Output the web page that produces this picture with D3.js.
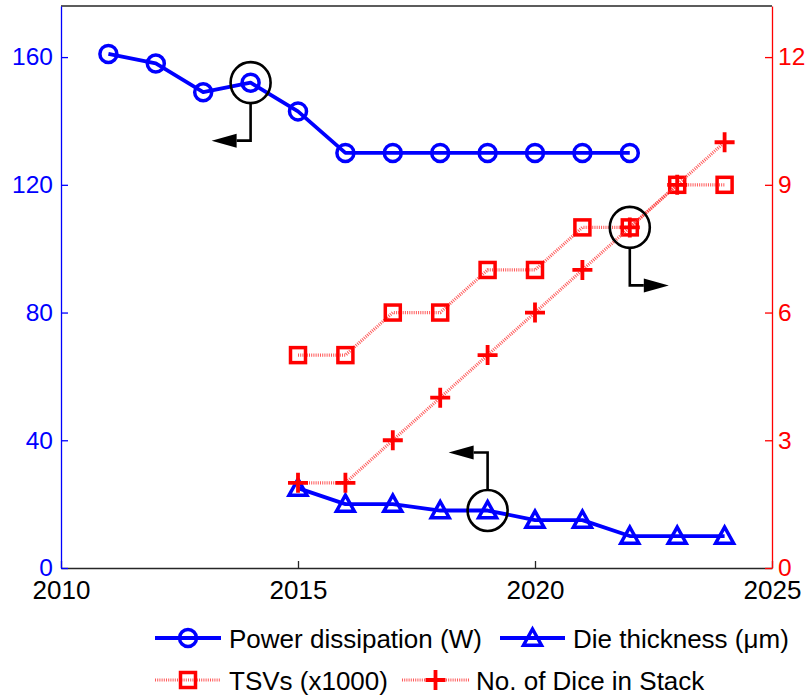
<!DOCTYPE html>
<html>
<head>
<meta charset="utf-8">
<script src="https://cdn.jsdelivr.net/npm/d3@7/dist/d3.min.js"></script>
<style>
  html, body { margin: 0; padding: 0; background: #fff; }
  svg { display: block; font-family: "Liberation Sans", Arial, sans-serif; }
</style>
</head>
<body>
<svg id="chart" width="809" height="698"></svg>
<script>
// ---- data ----
const powerYears = [2011, 2012, 2013, 2014, 2015, 2016, 2017, 2018, 2019, 2020, 2021, 2022];
const powerVals  = [161, 158, 149, 152, 143, 130, 130, 130, 130, 130, 130, 130];
const stackYears = [2015, 2016, 2017, 2018, 2019, 2020, 2021, 2022, 2023, 2024];
const dieVals    = [25, 20, 20, 18, 18, 15, 15, 10, 10, 10];
const tsvVals    = [5, 5, 6, 6, 7, 7, 8, 8, 9, 9];
const diceVals   = [2, 2, 3, 4, 5, 6, 7, 8, 9, 10];
const xTicks     = [2010, 2015, 2020, 2025];
const leftTicks  = [0, 40, 80, 120, 160];
const rightTicks = [0, 3, 6, 9, 12];
const legendLabels = ["Power dissipation (W)", "Die thickness (\u03bcm)", "TSVs (x1000)", "No. of Dice in Stack"];

// ---- setup ----
const svg = d3.select("#chart");
const BLUE = "#0000ff", RED = "#ff0000";
const L = 61, R = 772, T = 6, B = 568;
const x = d3.scaleLinear().domain([2010, 2025]).range([L, R]);
const yL = d3.scaleLinear().domain([0, 176]).range([B, T]);
const yR = d3.scaleLinear().domain([0, 13.2]).range([B, T]);

// frame top
svg.append("line").attr("x1", L).attr("x2", R).attr("y1", T).attr("y2", T)
  .attr("stroke", "#262626").attr("stroke-width", 1.3);

// axes
const gx = svg.append("g").attr("transform", `translate(0,${B})`)
  .call(d3.axisBottom(x).tickValues(xTicks).tickFormat(d3.format("d")).tickSizeInner(-7).tickSizeOuter(0).tickPadding(13));
gx.selectAll("path,line").attr("stroke", "#262626").attr("stroke-width", 1.3);
gx.selectAll("text").attr("fill", "#000").style("font-size", "26px").style("font-family", "Liberation Sans, Arial");

const gl = svg.append("g").attr("transform", `translate(${L},0)`)
  .call(d3.axisLeft(yL).tickValues(leftTicks).tickSizeInner(-7).tickSizeOuter(0).tickPadding(8));
gl.selectAll("path,line").attr("stroke", BLUE).attr("stroke-width", 1.3);
gl.selectAll("text").attr("fill", BLUE).style("font-size", "24.5px").style("font-family", "Liberation Sans, Arial");

const gr = svg.append("g").attr("transform", `translate(${R},0)`)
  .call(d3.axisRight(yR).tickValues(rightTicks).tickSizeInner(-7).tickSizeOuter(0).tickPadding(6));
gr.selectAll("path,line").attr("stroke", RED).attr("stroke-width", 1.3);
gr.selectAll("text").attr("fill", RED).style("font-size", "24.5px").style("font-family", "Liberation Sans, Arial");

// marker helpers
function circleMarker(g, cx, cy, color) {
  g.append("circle").attr("cx", cx).attr("cy", cy).attr("r", 8.5)
    .attr("fill", "none").attr("stroke", color).attr("stroke-width", 3.5);
}
function triMarker(g, cx, cy, color) {
  const s = 9;
  g.append("path").attr("d", `M${cx},${cy - s} L${cx + s},${cy + s * 0.8} L${cx - s},${cy + s * 0.8} Z`)
    .attr("fill", "none").attr("stroke", color).attr("stroke-width", 3.5).attr("stroke-linejoin", "miter");
}
function squareMarker(g, cx, cy, color) {
  const s = 7.5;
  g.append("rect").attr("x", cx - s).attr("y", cy - s).attr("width", 2 * s).attr("height", 2 * s)
    .attr("fill", "none").attr("stroke", color).attr("stroke-width", 3.5);
}
function plusMarker(g, cx, cy, color) {
  const s = 10;
  g.append("path").attr("d", `M${cx - s},${cy} L${cx + s},${cy} M${cx},${cy - s} L${cx},${cy + s}`)
    .attr("fill", "none").attr("stroke", color).attr("stroke-width", 3.8);
}

const solidLine = (g, pts) => g.append("path").datum(pts)
  .attr("d", d3.line().x(d => d[0]).y(d => d[1]))
  .attr("fill", "none").attr("stroke", BLUE).attr("stroke-width", 3.8).attr("stroke-linejoin", "round");
const dottedLine = (g, pts) => g.append("path").datum(pts)
  .attr("d", d3.line().x(d => d[0]).y(d => d[1]))
  .attr("fill", "none").attr("stroke", "#ff3030").attr("stroke-width", 3.2).attr("stroke-dasharray", "1,1.2")
  .attr("stroke-opacity", 0.8);

const plot = svg.append("g");

// blue series
const powPts = powerYears.map((yr, i) => [x(yr), yL(powerVals[i])]);
solidLine(plot, powPts);
powPts.forEach(p => circleMarker(plot, p[0], p[1], BLUE));
const diePts = stackYears.map((yr, i) => [x(yr), yL(dieVals[i])]);
solidLine(plot, diePts);
diePts.forEach(p => triMarker(plot, p[0], p[1], BLUE));

// red series
const tsvPts = stackYears.map((yr, i) => [x(yr), yR(tsvVals[i])]);
dottedLine(plot, tsvPts);
tsvPts.forEach(p => squareMarker(plot, p[0], p[1], RED));
const dicePts = stackYears.map((yr, i) => [x(yr), yR(diceVals[i])]);
dottedLine(plot, dicePts);
dicePts.forEach(p => plusMarker(plot, p[0], p[1], RED));

// annotations: highlight circle + bent arrow
const annots = [
  { cx: x(2014), cy: yL(152), dir: "downLeft" },
  { cx: x(2022), cy: yR(8), dir: "downRight" },
  { cx: x(2019), cy: yL(18), dir: "upLeft" }
];
const ag = svg.append("g");
annots.forEach(a => {
  ag.append("ellipse").attr("cx", a.cx).attr("cy", a.cy).attr("rx", 20).attr("ry", 20.5)
    .attr("fill", "none").attr("stroke", "#000").attr("stroke-width", 2.6);
  const vy = a.dir === "upLeft" ? -1 : 1;
  const hx = a.dir === "downRight" ? 1 : -1;
  const y0 = a.cy + vy * 20.5, y1 = a.cy + vy * 58;
  const xb = a.cx + hx * 14, xt = a.cx + hx * 39;
  ag.append("path").attr("d", `M${a.cx},${y0} L${a.cx},${y1} L${xb},${y1}`)
    .attr("fill", "none").attr("stroke", "#000").attr("stroke-width", 2.6);
  ag.append("path").attr("d", `M${xt},${y1} L${xb},${y1 - 7} L${xb},${y1 + 7} Z`).attr("fill", "#000");
});

// legend
const lg = svg.append("g");
const legendItems = [
  { x0: 155, x1: 221, y: 638, tx: 229, type: "circle" },
  { x0: 500, x1: 565, y: 638, tx: 573, type: "tri" },
  { x0: 155, x1: 221, y: 680, tx: 229, type: "square" },
  { x0: 402, x1: 469, y: 680, tx: 476, type: "plus" }
];
legendItems.forEach((it, i) => {
  const cx = (it.x0 + it.x1) / 2;
  const pts = [[it.x0, it.y], [it.x1, it.y]];
  if (it.type === "circle") { solidLine(lg, pts); circleMarker(lg, cx, it.y, BLUE); }
  if (it.type === "tri") { solidLine(lg, pts); triMarker(lg, cx, it.y, BLUE); }
  if (it.type === "square") { dottedLine(lg, pts); squareMarker(lg, cx, it.y, RED); }
  if (it.type === "plus") { dottedLine(lg, pts); plusMarker(lg, cx, it.y, RED); }
  lg.append("text").attr("x", it.tx).attr("y", it.y + 9.5).attr("fill", "#000")
    .style("font-size", "26px").text(legendLabels[i]);
});
</script>
</body>
</html>
